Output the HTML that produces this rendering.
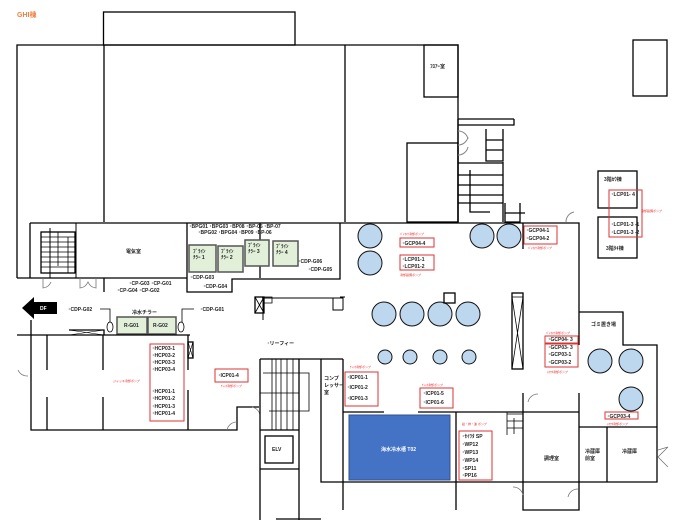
<!DOCTYPE html>
<html><head><meta charset="utf-8"><style>
html,body{margin:0;padding:0;background:#fff;}
svg{display:block;font-family:"Liberation Sans","Noto Sans CJK JP",sans-serif;}
.w{fill:none;stroke:#000;stroke-width:1.3}
.t{font-size:5px;font-weight:bold;fill:#222}
.r{fill:none;stroke:#d33;stroke-width:1}
.rt{font-size:3px;fill:#e22}
.c{fill:#bdd7ee;stroke:#111;stroke-width:1}
.g{fill:#e2efd9;stroke:#555;stroke-width:1.5}
</style></head><body>
<svg width="687" height="529" viewBox="0 0 687 529">
<text x="17" y="17" font-size="7" font-weight="bold" fill="#f08040">GHI棟</text>
<!-- top big block -->
<rect class="w" x="103.5" y="12" width="191.5" height="33"/>
<path class="w" d="M17 278V45H458V222M104 45V222M345 45V222"/>
<rect class="w" x="424" y="45" width="34" height="52"/><text class="t" x="430" y="68">ﾌﾛｱｰ室</text>
<rect class="w" x="633" y="40" width="34" height="56"/>
<rect class="w" x="407" y="143" width="51" height="79"/>
<!-- stairs top right -->
<path class="w" d="M458 119h56M458 119v6h56v-6M458 125v97M486 129v32h17v-32M486 140h17M486 150h17M458 163h45M458 175h45M458 185h45M458 195h45M458 203h45M470 170v42h20M503 162v60M505 203v19h15v-19M505 213h20" stroke-width="1"/>
<path d="M458 131a10 10 0 0 1 10 8M458 145a10 10 0 0 0 10 -8M458 155a10 10 0 0 0 10 -8M574 212a10 10 0 0 0-8 10" fill="none" stroke="#888" stroke-width="1"/>
<!-- 3F boxes -->
<rect class="w" x="598" y="171" width="39" height="37"/><text class="t" x="604" y="181">3階ｶｳ棟</text>
<rect class="w" x="598" y="217" width="39" height="41"/><text class="t" x="606" y="250">3階ﾀｷ棟</text>
<rect class="r" x="609" y="190" width="33" height="47"/>
<text class="t" x="611" y="196">･LCP01- 4</text><text class="t" x="611" y="226">･LCP01-3 -1</text><text class="t" x="611" y="234">･LCP01-3 -2</text>
<text class="rt" x="641" y="212">冷却設備ポンプ</text>
<!-- strip -->
<path class="w" d="M30 223H579V312H623V345H657V482H523M579 312V345M30 223V278M17 278H187M104 278V292"/>
<rect class="w" x="41" y="232" width="34" height="41" stroke-width="1"/>
<path d="M41 237h34M41 242h34M41 247h34M41 252h34M41 257h34M41 262h34M41 267h34M58 232v34M68 237v36" stroke="#000" stroke-width="0.8"/>
<path d="M50 228v50M76 223v55" stroke="#000" stroke-width="1"/>
<text class="t" x="126" y="253">電気室</text>
<path class="w" d="M187 223V292H232V279H340V223M260 223V278"/>
<rect class="g" x="189" y="245" width="27" height="27"/><rect class="g" x="218" y="246" width="25" height="26"/>
<rect class="g" x="245" y="240" width="24" height="26"/><rect class="g" x="273" y="241" width="25" height="25"/>
<text class="t" x="193" y="253" font-size="4">ﾌﾞﾗｲﾝ</text><text class="t" x="193" y="259" font-size="4">ﾁﾗｰ 1</text>
<text class="t" x="221" y="253" font-size="4">ﾌﾞﾗｲﾝ</text><text class="t" x="221" y="259" font-size="4">ﾁﾗｰ 2</text>
<text class="t" x="248" y="247" font-size="4">ﾌﾞﾗｲﾝ</text><text class="t" x="248" y="253" font-size="4">ﾁﾗｰ 3</text>
<text class="t" x="276" y="248" font-size="4">ﾌﾞﾗｲﾝ</text><text class="t" x="276" y="254" font-size="4">ﾁﾗｰ 4</text>
<text class="t" x="189" y="228">･BPG01 ･BPG03 ･BP08 ･BP-05 ･BP-07</text>
<text class="t" x="198" y="234">･BPG02 ･BPG04 ･BP09 ･BP-06</text>
<text class="t" x="298" y="263">･CDP-G06</text><text class="t" x="308" y="271">･CDP-G05</text>
<text class="t" x="190" y="279">･CDP-G03</text><text class="t" x="203" y="288">･CDP-G04</text>
<text class="t" x="129" y="285">･CP-G03 ･CP-G01</text><text class="t" x="117" y="292">･CP-G04 ･CP-G02</text>
<path d="M43 278v10a10 10 0 0 0 8-6M80 278v10a10 10 0 0 0 8-6a10 10 0 0 0 8 6v-10" fill="none" stroke="#777" stroke-width="0.8"/>
<!-- DF arrow -->
<path d="M22 308L34 297V302H57V314H34V319Z" fill="#000"/><text x="40" y="310" font-size="5" font-weight="bold" fill="#fff">DF</text>
<text class="t" x="68" y="311">･CDP-G02</text><path d="M100 309H110V322M182 322V309H194" fill="none" stroke="#000" stroke-width="0.8"/>
<text class="t" x="200" y="311">･CDP-G01</text>
<text class="t" x="132" y="314">冷水チラー</text>
<rect class="g" x="117" y="317" width="30" height="17"/><rect class="g" x="148" y="317" width="28" height="17"/>
<text class="t" x="124" y="327">R-G01</text><text class="t" x="153" y="327">R-G02</text>
<ellipse cx="110" cy="327" rx="3" ry="5" fill="#fff" stroke="#000" stroke-width="0.8"/><ellipse cx="181" cy="327" rx="3" ry="5" fill="#fff" stroke="#000" stroke-width="0.8"/>
<!-- left rooms -->
<path class="w" d="M17 335H69M69 330h35v5H69M104 335H190M31 320V430H237V407H259M47 335V370M47 397V430M103 335V370M103 397V430M188 335V370M188 390V430"/>
<path d="M69 330l35 5M69 335l35-5" stroke="#000" stroke-width="0.6"/>
<rect class="w" x="188" y="342" width="5" height="16"/><path d="M188 342l5 16M193 342l-5 16" stroke="#000" stroke-width="0.6"/>
<rect class="w" x="255" y="297" width="9" height="16"/><path d="M255 297l9 16M264 297l-9 16M264 297h8v6h-8" stroke="#000" stroke-width="0.8" fill="none"/>
<text class="t" x="267" y="345">･リーフィー</text>
<path d="M340 297h5" stroke="#000"/>
<path d="M263 297V320M262 298H343V310M333 298v12h10" fill="none" stroke="#000" stroke-width="1"/>
<rect class="r" x="150" y="344" width="34" height="77"/>
<text class="t" x="152" y="350">･HCP03-1</text><text class="t" x="152" y="357">･HCP03-2</text><text class="t" x="152" y="364">･HCP03-3</text><text class="t" x="152" y="371">･HCP03-4</text>
<text class="t" x="152" y="393">･HCP01-1</text><text class="t" x="152" y="400">･HCP01-2</text><text class="t" x="152" y="408">･HCP01-3</text><text class="t" x="152" y="415">･HCP01-4</text>
<text class="rt" x="113" y="382">ジャッキ冷却ポンプ</text>
<rect class="r" x="215" y="369" width="33" height="13"/><text class="t" x="218" y="377">･ICP01-4</text><text class="rt" x="221" y="387">ﾁｬｯｶ冷却ポンプ</text>
<path d="M18 370a10 10 0 0 0 10 6M227 430a10 10 0 0 1 10-8M252 407a10 10 0 0 1 8 8" fill="none" stroke="#777" stroke-width="0.8"/>
<!-- center stairs / elv -->
<path class="w" d="M260 359H343M260 359V520M299 359V520M260 430H299M260 469H299M321 359V482H343M343 359V510M276 519H321"/>
<path d="M272 359v71M276 359v71M281 359v71M287 359v71M293 359v71M260 393h39M263 373h46v38h-40" fill="none" stroke="#000" stroke-width="0.8"/>
<rect class="w" x="265" y="436" width="28" height="27"/><text class="t" x="272" y="451">ELV</text>
<text class="t" x="324" y="380">コンプ</text><text class="t" x="324" y="387">レッサー</text><text class="t" x="324" y="394">室</text>
<!-- circles -->
<circle class="c" cx="370" cy="236" r="12"/><circle class="c" cx="370" cy="263" r="12"/>
<circle class="c" cx="482" cy="236" r="12"/><circle class="c" cx="509" cy="236" r="12"/>
<circle class="c" cx="384" cy="314" r="12"/><circle class="c" cx="412" cy="314" r="12"/><circle class="c" cx="440" cy="314" r="12"/><circle class="c" cx="468" cy="314" r="12"/>
<circle class="c" cx="385" cy="357" r="7"/><circle class="c" cx="410" cy="357" r="7"/><circle class="c" cx="440" cy="357" r="7"/><circle class="c" cx="469" cy="357" r="7"/>
<circle class="c" cx="600" cy="361" r="12"/><circle class="c" cx="631" cy="361" r="12"/><circle class="c" cx="631" cy="399" r="12"/>
<rect class="w" x="444" y="293" width="11" height="10" stroke-width="1"/>
<rect class="w" x="512" y="293" width="11" height="76"/><path d="M512 297h11M512 297l11 72M523 297l-11 72" stroke="#000" stroke-width="0.8"/>
<path class="w" d="M523 223V249"/>
<!-- red labels right -->
<text class="rt" x="400" y="235">ﾊﾞｲｵｽｹ冷却ポンプ</text>
<rect class="r" x="400" y="238" width="34" height="9"/><text class="t" x="402" y="245">･GCP04-4</text>
<rect class="r" x="400" y="255" width="34" height="15"/><text class="t" x="402" y="261">･LCP01-1</text><text class="t" x="402" y="268">･LCP01-2</text>
<text class="rt" x="400" y="276">冷却設備ポンプ</text>
<rect class="r" x="524" y="226" width="33" height="18"/><text class="t" x="526" y="232">･GCP04-1</text><text class="t" x="526" y="240">･GCP04-2</text>
<text class="rt" x="528" y="249">ﾊﾞｲｵｽｹ冷却ポンプ</text>
<text class="rt" x="546" y="334">ﾊﾞｲｵｽｹ冷却ポンプ</text>
<rect class="r" x="545" y="336" width="33" height="7"/><text class="t" x="548" y="341">･GCP04- 3</text>
<rect class="r" x="545" y="344" width="33" height="23"/><text class="t" x="548" y="349">･GCP03- 3</text><text class="t" x="548" y="356">･GCP03-1</text><text class="t" x="548" y="364">･GCP03-2</text>
<text class="rt" x="547" y="373">ﾒｶﾜﾀ冷却ポンプ</text>
<text class="t" x="591" y="326">ゴミ置き場</text>
<text class="rt" x="350" y="368">ﾁｬｯｶ冷却ポンプ</text>
<rect class="r" x="345" y="372" width="33" height="34"/><text class="t" x="347" y="379">･ICP01-1</text><text class="t" x="347" y="389">･ICP01-2</text><text class="t" x="347" y="400">･ICP01-3</text>
<text class="rt" x="422" y="386">ﾁｬｯｶ冷却ポンプ</text>
<rect class="r" x="420" y="388" width="33" height="20"/><text class="t" x="423" y="395">･ICP01-5</text><text class="t" x="423" y="404">･ICP01-6</text>
<!-- bottom center -->
<path class="w" d="M343 412H384M418 412H579M343 482H523M456 412V510M523 393V510H579V393M579 427H657M607 427V482"/>
<rect x="349" y="415" width="101" height="65" fill="#4472c4" stroke="#2f528f" stroke-width="1"/>
<text x="381" y="451" font-size="5" font-weight="bold" fill="#fff">海水冷水槽 T02</text>
<text class="rt" x="462" y="425">給・排・濾 ポンプ</text>
<rect class="r" x="459" y="431" width="33" height="49"/>
<text class="t" x="462" y="438">･ｾｲﾜﾀ SP</text><text class="t" x="462" y="446">･WP12</text><text class="t" x="462" y="454">･WP13</text><text class="t" x="462" y="462">･WP14</text><text class="t" x="462" y="470">･SP11</text><text class="t" x="462" y="477">･PP16</text>
<path d="M507 414h16M507 421h16M507 428h16M507 412v23M514 418v16" stroke="#000" stroke-width="0.8" fill="none"/>
<text class="t" x="544" y="460">調理室</text>
<text class="t" x="585" y="453">冷蔵庫</text><text class="t" x="585" y="460">前室</text><text class="t" x="622" y="453">冷蔵庫</text>
<rect class="r" x="605" y="412" width="33" height="7"/><text class="t" x="607" y="418">･GCP03-4</text>
<text class="rt" x="607" y="425">ﾒｶﾜﾀ冷却ポンプ</text>
<path d="M528 402a10 10 0 0 1 10-8M568 497a10 10 0 0 1 10-8M513 487a10 10 0 0 1 10 8M658 450l10-3-10 10 10 10" fill="none" stroke="#777" stroke-width="0.8"/>
</svg>
</body></html>
